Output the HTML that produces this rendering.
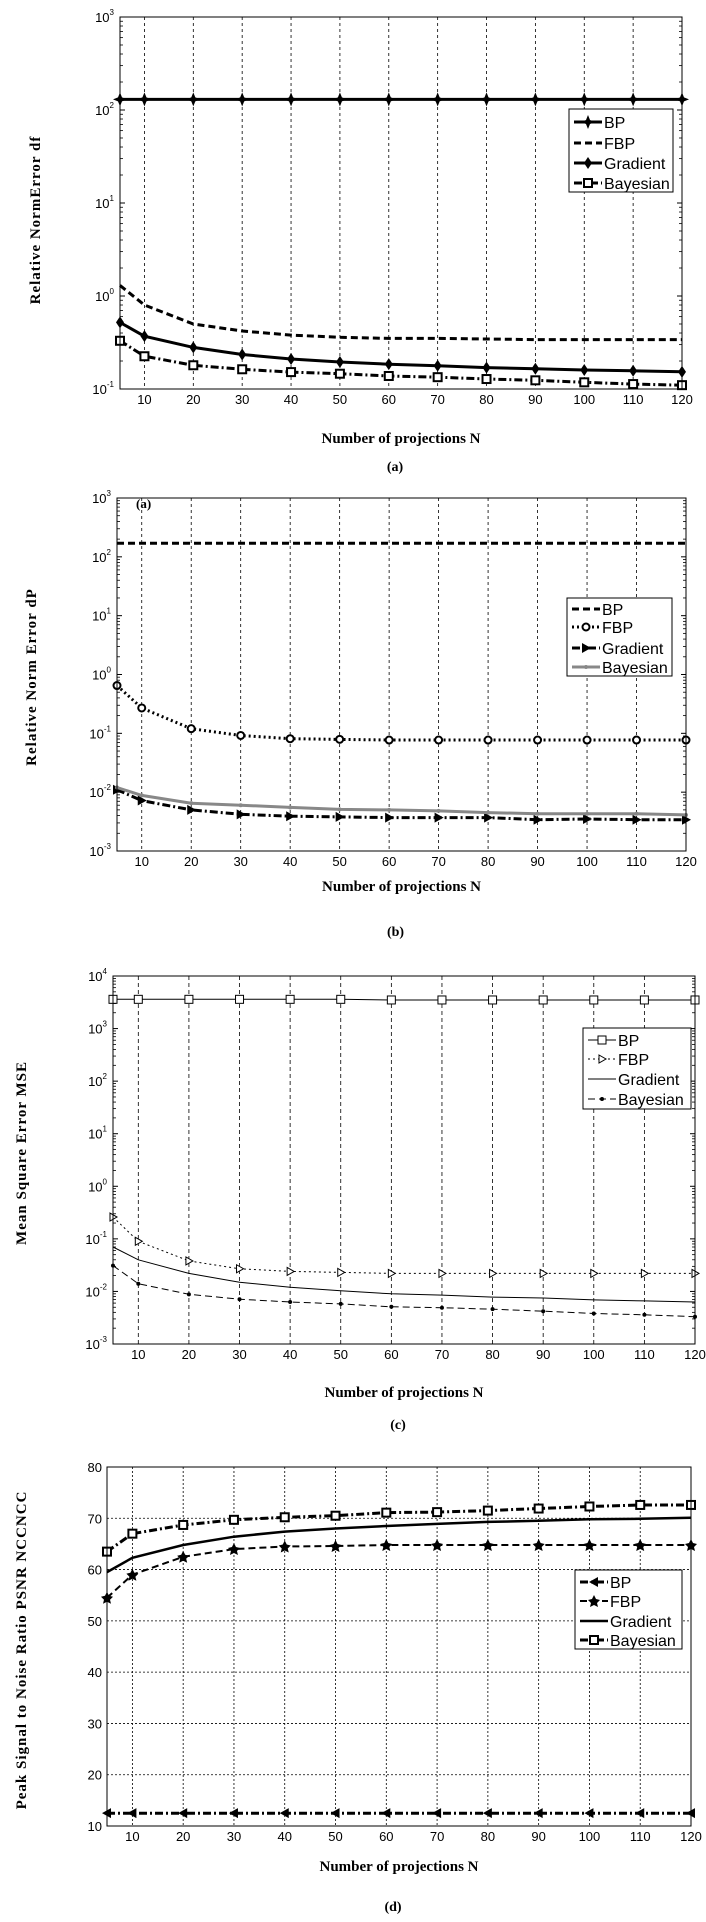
<!DOCTYPE html>
<html><head><meta charset="utf-8"><style>
html,body{margin:0;padding:0;background:#fff;}
svg{display:block;}
</style></head><body>
<svg id="fig" width="706" height="1922" viewBox="0 0 706 1922" xmlns="http://www.w3.org/2000/svg"></svg>
<script>
const NS='http://www.w3.org/2000/svg';
const xs=[5,10,20,30,40,50,60,70,80,90,100,110,120];
const xTicks=[10,20,30,40,50,60,70,80,90,100,110,120];
const aBP=[130,130,130,130,130,130,130,130,130,130,130,130,130];
const aFBP=[1.3,0.8,0.5,0.42,0.38,0.36,0.35,0.35,0.345,0.34,0.34,0.34,0.34];
const aGrad=[0.52,0.37,0.28,0.235,0.21,0.195,0.185,0.178,0.17,0.165,0.16,0.157,0.153];
const aBay=[0.33,0.225,0.18,0.163,0.152,0.146,0.138,0.134,0.128,0.124,0.118,0.113,0.11];
const bBP=[170,170,170,170,170,170,170,170,170,170,170,170,170];
const bFBP=[0.65,0.27,0.12,0.092,0.081,0.079,0.077,0.077,0.077,0.077,0.077,0.077,0.077];
const bGrad=[0.011,0.0072,0.005,0.0042,0.0039,0.0038,0.0037,0.0037,0.0037,0.0034,0.0035,0.0034,0.0034];
const bBay=[0.012,0.0088,0.0065,0.006,0.0055,0.0051,0.005,0.0048,0.0045,0.0043,0.0043,0.0043,0.0041];
const cBP=[3600,3600,3600,3600,3600,3600,3500,3500,3500,3500,3500,3500,3500];
const cFBP=[0.26,0.09,0.038,0.027,0.024,0.023,0.022,0.022,0.022,0.022,0.022,0.022,0.022];
const cGrad=[0.07,0.04,0.022,0.015,0.012,0.0103,0.009,0.0085,0.0078,0.0075,0.0069,0.0066,0.0063];
const cBay=[0.031,0.014,0.0088,0.0071,0.0063,0.0058,0.0051,0.0049,0.0046,0.0042,0.0038,0.0036,0.0033];
const dBP=[12.5,12.5,12.5,12.5,12.5,12.5,12.5,12.5,12.5,12.5,12.5,12.5,12.5];
const dFBP=[54.5,59,62.5,64,64.5,64.6,64.8,64.8,64.8,64.8,64.8,64.8,64.8];
const dGrad=[59.5,62.3,64.8,66.4,67.4,68,68.5,68.9,69.3,69.5,69.8,69.9,70.1];
const dBay=[63.5,67,68.7,69.7,70.2,70.5,71.1,71.2,71.5,71.9,72.3,72.6,72.6];
const dYTicks=[10,20,30,40,50,60,70,80];

const svg=document.getElementById('fig');
function el(tag,attrs,parent){const e=document.createElementNS(NS,tag);for(const k in attrs)e.setAttribute(k,attrs[k]);(parent||svg).appendChild(e);return e;}
function txt(s,attrs,parent){const t=el('text',attrs,parent);t.textContent=s;return t;}
const DASH={solid:'',dash:'7,4',dot:'2,3',dashdot:'8,3,2,3'};
function marker(g,type,x,y,col){
  if(type==='square')el('rect',{x:x-4,y:y-4,width:8,height:8,fill:'#fff',stroke:col,'stroke-width':2},g);
  else if(type==='squareThin')el('rect',{x:x-4,y:y-4,width:8,height:8,fill:'#fff',stroke:col,'stroke-width':1},g);
  else if(type==='diamond')el('polygon',{points:`${x},${y-6} ${x+4},${y} ${x},${y+6} ${x-4},${y}`,fill:col},g);
  else if(type==='star'){el('polygon',{points:`${x},${y-7} ${x+2},${y-2} ${x+7},${y} ${x+2},${y+2} ${x},${y+7} ${x-2},${y+2} ${x-7},${y} ${x-2},${y-2}`,fill:col},g);}
  else if(type==='circle')el('circle',{cx:x,cy:y,r:3.5,fill:'#fff',stroke:col,'stroke-width':2},g);
  else if(type==='triR')el('polygon',{points:`${x-4},${y-5} ${x+5},${y} ${x-4},${y+5}`,fill:col},g);
  else if(type==='triRThin')el('polygon',{points:`${x-3},${y-4} ${x+4},${y} ${x-3},${y+4}`,fill:'#fff',stroke:col,'stroke-width':1},g);
  else if(type==='triL')el('polygon',{points:`${x+4},${y-5} ${x-5},${y} ${x+4},${y+5}`,fill:col},g);
  else if(type==='dot')el('circle',{cx:x,cy:y,r:2,fill:col},g);
  else if(type==='pent'){el('polygon',{points:`${x},${y-6} ${x+2},${y-2} ${x+6},${y-1} ${x+3},${y+2} ${x+4},${y+6} ${x},${y+4} ${x-4},${y+6} ${x-3},${y+2} ${x-6},${y-1} ${x-2},${y-2}`,fill:col},g);}
}
function panel(p){
  const g=el('g',{});
  const X=v=>p.L+(v-5)/115*(p.R-p.L);
  const Y=p.log?(v=>p.B-(Math.log10(v)-p.ymin)/(p.ymax-p.ymin)*(p.B-p.T)):(v=>p.B-(v-p.ymin)/(p.ymax-p.ymin)*(p.B-p.T));
  el('rect',{x:p.L,y:p.T,width:p.R-p.L,height:p.B-p.T,fill:'#fff',stroke:'none'},g);
  const grid=el('g',{},g);
  xTicks.forEach(t=>{el('line',{x1:X(t),x2:X(t),y1:p.T,y2:p.B,stroke:'#000','stroke-width':0.8,'stroke-dasharray':p.gridDash},grid);});
  const ax=el('g',{},g);
  if(p.log){
    for(let e=p.ymin;e<=p.ymax;e++){
      const y=Y(Math.pow(10,e));
      el('line',{x1:p.L,x2:p.L+5,y1:y,y2:y,stroke:'#000'},ax);
      el('line',{x1:p.R,x2:p.R-5,y1:y,y2:y,stroke:'#000'},ax);
      const t=txt('10',{x:p.L-6,y:y+5,'text-anchor':'end','font-size':13,'font-family':'Liberation Sans Narrow, Liberation Sans, sans-serif'},ax);
      const s=el('tspan',{dy:-7,'font-size':8},t);s.textContent=String(e);
      if(e<p.ymax)for(let m=2;m<10;m++){const ym=Y(m*Math.pow(10,e));
        el('line',{x1:p.L,x2:p.L+3,y1:ym,y2:ym,stroke:'#000','stroke-width':0.8},ax);
        el('line',{x1:p.R,x2:p.R-3,y1:ym,y2:ym,stroke:'#000','stroke-width':0.8},ax);}
    }
  } else {
    p.yTicks.forEach(v=>{const y=Y(v);
      if(v>p.ymin&&v<p.ymax)el('line',{x1:p.L,x2:p.R,y1:y,y2:y,stroke:'#000','stroke-width':0.8,'stroke-dasharray':p.gridDash},grid);
      txt(String(v),{x:p.L-5,y:y+5,'text-anchor':'end','font-size':13,'font-family':'Liberation Sans Narrow, Liberation Sans, sans-serif'},ax);});
  }
  const xa=el('g',{},g);
  xTicks.forEach(t=>{txt(String(t),{x:X(t),y:p.B+15,'text-anchor':'middle','font-size':13,'font-family':'Liberation Sans Narrow, Liberation Sans, sans-serif'},xa);});
  p.series.forEach(s=>{
    const sg=el('g',{},g);
    const pts=xs.map((x,i)=>X(x).toFixed(1)+','+Y(s.data[i]).toFixed(1)).join(' ');
    el('polyline',{points:pts,fill:'none',stroke:s.color,'stroke-width':s.w,'stroke-dasharray':DASH[s.dash]},sg);
    if(s.m)xs.forEach((x,i)=>marker(sg,s.m,X(x),Y(s.data[i]),s.color));
  });
  el('rect',{x:p.L,y:p.T,width:p.R-p.L,height:p.B-p.T,fill:'none',stroke:'#000','stroke-width':1},g);
  const lg=el('g',{},g);
  el('rect',{x:p.lg.x,y:p.lg.y,width:p.lg.w,height:p.lg.h,fill:'#fff',stroke:'#000'},lg);
  p.series.forEach((s,i)=>{
    const e=el('g',{},lg);
    const y=p.lg.ys[i];
    el('line',{x1:p.lg.x+5,x2:p.lg.x+33,y1:y,y2:y,stroke:s.color,'stroke-width':s.w,'stroke-dasharray':DASH[s.dash]},e);
    if(s.m)marker(e,s.m,p.lg.x+19,y,s.color);
    txt(s.label,{x:p.lg.x+35,y:y+6,'font-size':16,'font-family':'Liberation Sans Narrow, Liberation Sans, sans-serif'},e);
  });
  txt('Number of projections N',{x:(p.L+p.R)/2,y:p.xt,'text-anchor':'middle','font-size':15,'font-weight':'bold','font-family':'Liberation Serif, serif',},g);
  txt(p.ytitle,{x:0,y:0,transform:`translate(${p.ytx},${p.yty}) rotate(-90)`,'text-anchor':'middle','font-size':15,'font-weight':'bold','font-family':'Liberation Serif, serif','letter-spacing':1,},g);
  txt(p.cap,{x:(p.L+p.R)/2-6,y:p.capy,'text-anchor':'middle','font-size':14,'font-weight':'bold','font-family':'Liberation Serif, serif',},g);
  return g;
}
panel({name:'chart-a',L:120,R:682,T:17,B:389,log:true,ymin:-1,ymax:3,gridDash:'3,3',xt:443,capy:471,cap:'(a)',
  ytitle:'Relative NormError df',ytx:40,yty:220,
  lg:{x:569,y:109,w:104,h:83,ys:[122,143,163,183]},
  series:[{label:'BP',data:aBP,color:'#000',w:3,dash:'solid',m:'star'},
          {label:'FBP',data:aFBP,color:'#000',w:3,dash:'dash',m:null},
          {label:'Gradient',data:aGrad,color:'#000',w:3,dash:'solid',m:'diamond'},
          {label:'Bayesian',data:aBay,color:'#000',w:3,dash:'dashdot',m:'square'}]});
panel({name:'chart-b',L:117,R:686,T:498,B:851,log:true,ymin:-3,ymax:3,gridDash:'3,3',xt:891,capy:936,cap:'(b)',
  ytitle:'Relative Norm Error dP',ytx:36,yty:677,
  lg:{x:567,y:598,w:105,h:78,ys:[609,627,648,667]},
  series:[{label:'BP',data:bBP,color:'#000',w:3,dash:'dash',m:null},
          {label:'FBP',data:bFBP,color:'#000',w:3,dash:'dot',m:'circle'},
          {label:'Gradient',data:bGrad,color:'#000',w:3,dash:'dashdot',m:'triR'},
          {label:'Bayesian',data:bBay,color:'#888',w:3,dash:'solid',m:'dot'}]});
txt('(a)',{x:136,y:508,'font-size':13,'font-weight':'bold','font-family':'Liberation Serif, serif',});
panel({name:'chart-c',L:113,R:695,T:976,B:1344,log:true,ymin:-3,ymax:4,gridDash:'4,3',xt:1397,capy:1429,cap:'(c)',
  ytitle:'Mean Square Error MSE',ytx:26,yty:1153,
  lg:{x:583,y:1028,w:108,h:81,ys:[1040,1059,1079,1099]},
  series:[{label:'BP',data:cBP,color:'#000',w:1,dash:'solid',m:'squareThin'},
          {label:'FBP',data:cFBP,color:'#000',w:1,dash:'dot',m:'triRThin'},
          {label:'Gradient',data:cGrad,color:'#000',w:1,dash:'solid',m:null},
          {label:'Bayesian',data:cBay,color:'#000',w:1,dash:'dash',m:'dot'}]});
panel({name:'chart-d',L:107,R:691,T:1467,B:1826,log:false,ymin:10,ymax:80,yTicks:dYTicks,gridDash:'2,2',xt:1871,capy:1911,cap:'(d)',
  ytitle:'Peak Signal to Noise Ratio PSNR NCCNCC',ytx:26,yty:1650,
  lg:{x:575,y:1570,w:107,h:79,ys:[1582,1601,1621,1640]},
  series:[{label:'BP',data:dBP,color:'#000',w:3,dash:'dashdot',m:'triL'},
          {label:'FBP',data:dFBP,color:'#000',w:2,dash:'dash',m:'pent'},
          {label:'Gradient',data:dGrad,color:'#000',w:2.5,dash:'solid',m:null},
          {label:'Bayesian',data:dBay,color:'#000',w:3,dash:'dashdot',m:'square'}]});
</script>
</body></html>
